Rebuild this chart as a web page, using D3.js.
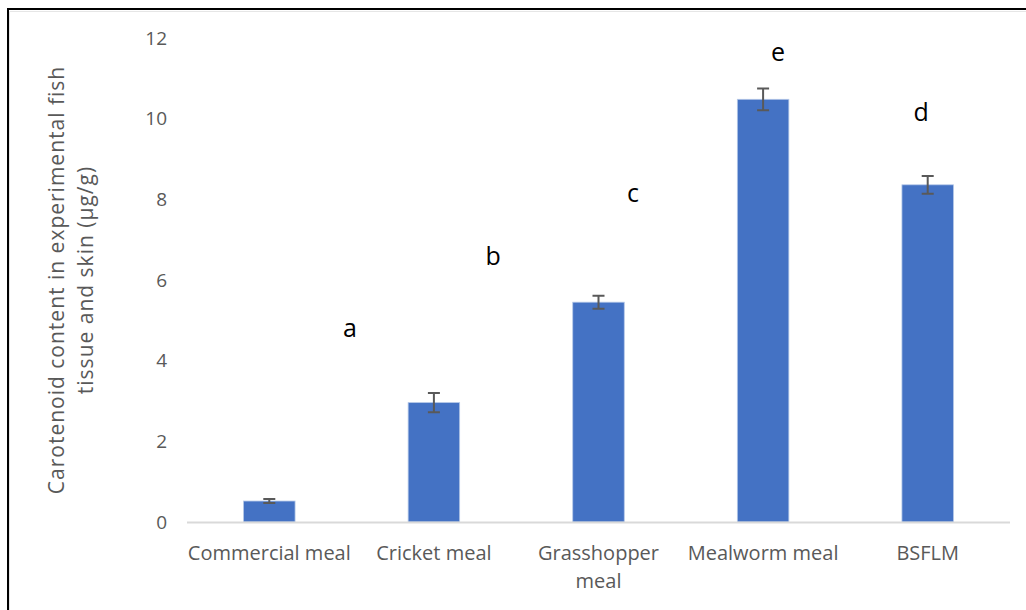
<!DOCTYPE html>
<html>
<head>
<meta charset="utf-8">
<script src="https://cdn.jsdelivr.net/npm/d3@7"></script>
<style>
  body { margin: 0; background: #fff; }
  text { font-family: "Open Sans", sans-serif; }
</style>
</head>
<body>
<div id="chart"></div>
<script>
// data
var categories = ["Commercial meal", "Cricket meal", "Grasshopper meal", "Mealworm meal", "BSFLM"],
    catLines = [["Commercial meal"], ["Cricket meal"], ["Grasshopper", "meal"], ["Mealworm meal"], ["BSFLM"]],
    values = [0.52, 2.96, 5.45, 10.48, 8.36],
    errors = [0.05, 0.24, 0.16, 0.27, 0.22],
    letters = ["a", "b", "c", "e", "d"],
    letterY = [4.59, 6.37, 7.94, 11.43, 9.93],      // baseline, in data units
    letterShift = [0.49, 0.36, 0.21, 0.09, -0.04],  // offset from bar centre, in bands
    yTicks = [0, 2, 4, 6, 8, 10, 12];

var W = 1026, H = 610;
var margin = { top: 38, right: 16, bottom: 88, left: 187 };

var svg = d3.select("#chart")
  .append("svg")
  .attr("width", W)
  .attr("height", H);

// frame (only top & left are visible in the crop)
svg.append("path")
  .attr("d", "M9.5,610 V11.5 H1026")
  .attr("fill", "none")
  .attr("stroke", "#e6e6e6")
  .attr("stroke-width", 1);
svg.append("path")
  .attr("d", "M8,610 V9 H1026")
  .attr("fill", "none")
  .attr("stroke", "#000")
  .attr("stroke-width", 2);

var x = d3.scaleBand()
  .domain(categories)
  .range([margin.left, W - margin.right])
  .paddingInner(0.687)
  .paddingOuter(0.3435);

var y = d3.scaleLinear()
  .domain([0, 12])
  .range([522, margin.top]);

// Y axis (labels only)
var yAxis = svg.append("g")
  .attr("transform", "translate(167,0)")
  .call(d3.axisLeft(y).tickValues(yTicks).tickSize(0).tickPadding(0));
yAxis.select(".domain").remove();
yAxis.selectAll("text")
  .attr("fill", "#595959")
  .style("font-size", "19px")
  .style("font-family", "Open Sans, sans-serif");

// bars
svg.append("g")
  .selectAll("rect")
  .data(values)
  .enter()
  .append("rect")
  .attr("x", function(d, i) { return x(categories[i]); })
  .attr("y", function(d) { return y(d); })
  .attr("width", x.bandwidth())
  .attr("height", function(d) { return y(0) - y(d); })
  .attr("fill", "#4472C4")
  .attr("stroke", "#b4c7e7")
  .attr("stroke-width", 0.8);

// baseline
svg.append("line")
  .attr("x1", margin.left)
  .attr("x2", W - margin.right)
  .attr("y1", y(0) + 0.5)
  .attr("y2", y(0) + 0.5)
  .attr("stroke", "#d9d9d9")
  .attr("stroke-width", 2);

// error bars
var eb = svg.append("g")
  .attr("stroke", "#595959")
  .attr("stroke-width", 2)
  .attr("fill", "none");
values.forEach(function(v, i) {
  var cx = x(categories[i]) + x.bandwidth() / 2,
      capW = 6;
  eb.append("path")
    .attr("d",
      "M" + cx + "," + y(v - errors[i]) + "V" + y(v + errors[i]) +
      "M" + (cx - capW) + "," + y(v + errors[i]) + "H" + (cx + capW) +
      "M" + (cx - capW) + "," + y(v - errors[i]) + "H" + (cx + capW));
});

// significance letters
svg.append("g")
  .selectAll("text")
  .data(letters)
  .enter()
  .append("text")
  .attr("x", function(d, i) { return x(categories[i]) + x.bandwidth() / 2 + letterShift[i] * x.step(); })
  .attr("y", function(d, i) { return y(letterY[i]); })
  .attr("text-anchor", "middle")
  .attr("fill", "#000")
  .style("font-size", "25px")
  .text(function(d) { return d; });

// category labels
var xl = svg.append("g");
categories.forEach(function(c, i) {
  var t = xl.append("text")
    .attr("x", x(c) + x.bandwidth() / 2)
    .attr("y", 560)
    .attr("text-anchor", "middle")
    .attr("fill", "#595959")
    .style("font-size", "20px");
  catLines[i].forEach(function(line, k) {
    t.append("tspan")
      .attr("x", x(c) + x.bandwidth() / 2)
      .attr("dy", k === 0 ? 0 : 28)
      .text(line);
  });
});

// Y axis title
var yt = svg.append("text")
  .attr("transform", "translate(57,280)rotate(-90)")
  .attr("text-anchor", "middle")
  .attr("fill", "#595959")
  .style("font-size", "21px")
  .style("letter-spacing", "1px");
yt.append("tspan").attr("x", 0).attr("dy", 7).text("Carotenoid content in experimental fish");
yt.append("tspan").attr("x", 0).attr("dy", 29).text("tissue and skin (µg/g)");
</script>
</body>
</html>
